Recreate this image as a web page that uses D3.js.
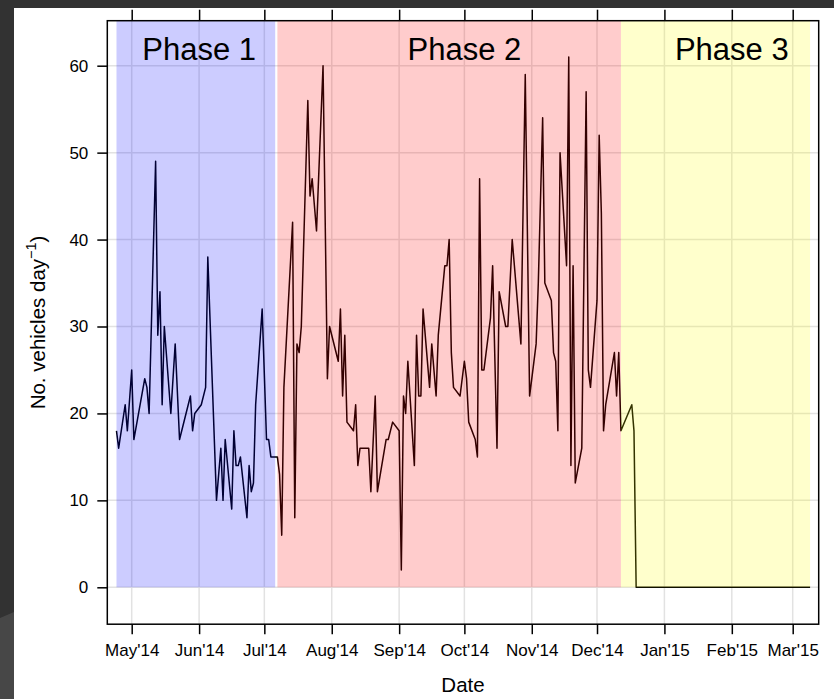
<!DOCTYPE html>
<html>
<head>
<meta charset="utf-8">
<script src="https://cdn.jsdelivr.net/npm/d3@7"></script>
<style>
  html, body { margin: 0; padding: 0; background: #ffffff; }
  svg { display: block; font-family: "Liberation Sans", Arial, sans-serif; }
</style>
</head>
<body>
<svg id="chart" width="834" height="699"></svg>
<script>
// ---------------- data ----------------
const dates = [
  "2014-04-24","2014-04-25","2014-04-28","2014-04-29","2014-05-01","2014-05-02","2014-05-07","2014-05-08","2014-05-09",
  "2014-05-12","2014-05-13","2014-05-14","2014-05-15","2014-05-16","2014-05-19","2014-05-21","2014-05-23","2014-05-28",
  "2014-05-29","2014-05-30","2014-06-02","2014-06-04","2014-06-05","2014-06-09","2014-06-11","2014-06-12","2014-06-13",
  "2014-06-16","2014-06-17","2014-06-18","2014-06-19","2014-06-20","2014-06-23","2014-06-24","2014-06-25","2014-06-26",
  "2014-06-27","2014-06-30","2014-07-02","2014-07-03","2014-07-04","2014-07-07","2014-07-08","2014-07-09","2014-07-10",
  "2014-07-14","2014-07-15","2014-07-16","2014-07-17","2014-07-18","2014-07-21","2014-07-22","2014-07-23","2014-07-25",
  "2014-07-28","2014-07-30","2014-07-31","2014-08-04","2014-08-05","2014-08-06","2014-08-07","2014-08-08","2014-08-11",
  "2014-08-12","2014-08-13","2014-08-14","2014-08-18","2014-08-19","2014-08-21","2014-08-22","2014-08-26","2014-08-27",
  "2014-08-29","2014-09-01","2014-09-02","2014-09-03","2014-09-04","2014-09-05","2014-09-08","2014-09-09","2014-09-10",
  "2014-09-11","2014-09-12","2014-09-15","2014-09-16","2014-09-18","2014-09-19","2014-09-22","2014-09-23","2014-09-24",
  "2014-09-25","2014-09-26","2014-09-29","2014-10-01","2014-10-02","2014-10-03","2014-10-06","2014-10-07","2014-10-08",
  "2014-10-09","2014-10-10","2014-10-13","2014-10-14","2014-10-16","2014-10-17","2014-10-20","2014-10-21","2014-10-23",
  "2014-10-27","2014-10-29","2014-10-31","2014-11-03","2014-11-04","2014-11-06","2014-11-07","2014-11-10","2014-11-11",
  "2014-11-12","2014-11-13","2014-11-14","2014-11-17","2014-11-18","2014-11-19","2014-11-20","2014-11-21","2014-11-24",
  "2014-11-26","2014-11-27","2014-11-28","2014-12-01","2014-12-02","2014-12-03","2014-12-04","2014-12-05","2014-12-09",
  "2014-12-10","2014-12-11","2014-12-12","2014-12-17","2014-12-18","2014-12-19","2015-03-09"
];
const vehicles = [
  18,16,21,18,25,17,24,23,20,
  49,29,34,21,30,20,28,17,22,
  18,20,21,23,38,10,16,10,17,
  9,18,14,14,15,8,14,11,12,
  21,32,17,17,15,15,13,6,23,
  42,8,28,27,30,56,45,47,41,
  60,24,30,26,32,22,29,19,18,
  21,14,16,16,11,22,11,17,17,
  19,18,2,22,20,26,14,29,22,
  22,32,23,28,22,29,37,37,40,
  27,23,22,26,24,19,17,15,47,
  25,25,31,37,16,34,30,30,40,
  28,59,22,28,35,54,35,33,27,
  26,18,50,37,61,14,37,12,16,
  57,25,23,33,52,43,18,21,27,
  22,27,18,21,18,0,0
];

const phaseNames  = ["Phase 1", "Phase 2", "Phase 3"];
const phaseStart  = ["2014-04-24", "2014-07-07", "2014-12-12"];
const phaseEnd    = ["2014-07-06", "2014-12-12", "2015-03-09"];
const phaseLabelAt = ["2014-06-01", "2014-10-01", "2015-02-01"];
const phaseColors = ["rgba(0,0,255,0.2)", "rgba(255,0,0,0.2)", "rgba(255,255,0,0.2)"];

const monthTicks = ["2014-05-01","2014-06-01","2014-07-01","2014-08-01","2014-09-01","2014-10-01",
                    "2014-11-01","2014-12-01","2015-01-01","2015-02-01","2015-03-01"];
const yTicks = [0, 10, 20, 30, 40, 50, 60];

// ---------------- setup ----------------
const parse = d3.utcParse("%Y-%m-%d");
const svg = d3.select("#chart");
const W = 834, H = 699;

const box = { left: 107.3, right: 818.7, top: 20.7, bottom: 624.2 };

const x = d3.scaleUtc()
  .domain([parse("2014-05-01"), parse("2015-03-01")])
  .range([131.7, 792.7]);
const y = d3.scaleLinear()
  .domain([0, 60])
  .range([587.3, 65.7]);

// window frame (dark edges of the screenshot)
svg.append("rect").attr("x", 0).attr("y", 0).attr("width", W).attr("height", 8).attr("fill", "#323232");
svg.append("rect").attr("x", 0).attr("y", 0).attr("width", 14).attr("height", H).attr("fill", "#323232");
svg.append("path").attr("d", "M0,618 L14,612 L14,699 L0,699 Z").attr("fill", "#474747");

// clip
svg.append("defs").append("clipPath").attr("id", "plotclip")
  .append("rect").attr("x", box.left).attr("y", box.top)
  .attr("width", box.right - box.left).attr("height", box.bottom - box.top);

const plot = svg.append("g").attr("clip-path", "url(#plotclip)");

// grid
plot.append("g").selectAll("line.gy").data(yTicks).join("line")
  .attr("x1", box.left).attr("x2", box.right)
  .attr("y1", d => y(d)).attr("y2", d => y(d))
  .attr("stroke", "#e2e2e2").attr("stroke-width", 1.5);
plot.append("g").selectAll("line.gx").data(monthTicks.map(parse)).join("line")
  .attr("x1", d => x(d)).attr("x2", d => x(d))
  .attr("y1", box.top).attr("y2", box.bottom)
  .attr("stroke", "#e2e2e2").attr("stroke-width", 1.5);

// data line
const series = dates.map((d, i) => ({ date: parse(d), value: vehicles[i] }));
plot.append("path")
  .datum(series)
  .attr("fill", "none")
  .attr("stroke", "#000")
  .attr("stroke-width", 1.5)
  .attr("stroke-linejoin", "round")
  .attr("d", d3.line().x(d => x(d.date)).y(d => y(d.value)));

// phase shading (semi-transparent, over the line)
plot.append("g").selectAll("rect").data(phaseNames).join("rect")
  .attr("x", (d, i) => x(parse(phaseStart[i])))
  .attr("width", (d, i) => x(parse(phaseEnd[i])) - x(parse(phaseStart[i])))
  .attr("y", box.top)
  .attr("height", y(0) - box.top)
  .attr("fill", (d, i) => phaseColors[i]);

// phase labels
plot.append("g").selectAll("text").data(phaseNames).join("text")
  .attr("x", (d, i) => x(parse(phaseLabelAt[i])))
  .attr("y", 60)
  .attr("text-anchor", "middle")
  .attr("font-size", 31)
  .attr("fill", "#000")
  .text(d => d);

// plot box
svg.append("rect")
  .attr("x", box.left).attr("y", box.top)
  .attr("width", box.right - box.left).attr("height", box.bottom - box.top)
  .attr("fill", "none").attr("stroke", "#000").attr("stroke-width", 1.5);

// axes
const xAxis = svg.append("g").attr("transform", `translate(0,${box.bottom})`)
  .call(d3.axisBottom(x).tickValues(monthTicks.map(parse)).tickSize(10).tickPadding(10)
        .tickFormat(d3.utcFormat("%b'%y")));
xAxis.select(".domain").remove();
xAxis.selectAll("line").attr("stroke", "#000").attr("stroke-width", 1.5);
xAxis.selectAll("text").attr("font-size", 17).attr("fill", "#000")
  .attr("font-family", "'Liberation Sans', Arial, sans-serif");

const xTop = svg.append("g").attr("transform", `translate(0,${box.top})`)
  .call(d3.axisTop(x).tickValues(monthTicks.map(parse)).tickSize(11).tickFormat(""));
xTop.select(".domain").remove();
xTop.selectAll("line").attr("stroke", "#000").attr("stroke-width", 1.5);

const yAxis = svg.append("g").attr("transform", `translate(${box.left},0)`)
  .call(d3.axisLeft(y).tickValues(yTicks).tickSize(10).tickPadding(9));
yAxis.select(".domain").remove();
yAxis.selectAll("line").attr("stroke", "#000").attr("stroke-width", 1.5);
yAxis.selectAll("text").attr("font-size", 17).attr("fill", "#000")
  .attr("font-family", "'Liberation Sans', Arial, sans-serif");

// axis titles
svg.append("text")
  .attr("x", (box.left + box.right) / 2).attr("y", 692)
  .attr("text-anchor", "middle").attr("font-size", 20.5).attr("fill", "#000")
  .text("Date");

const yt = svg.append("text")
  .attr("transform", `translate(45,${(box.top + box.bottom) / 2}) rotate(-90)`)
  .attr("text-anchor", "middle").attr("font-size", 20.5).attr("fill", "#000");
yt.append("tspan").text("No. vehicles day");
yt.append("tspan").attr("dy", -9).attr("font-size", 14.5).text("\u22121");
yt.append("tspan").attr("dy", 9).text(")");
</script>
</body>
</html>
